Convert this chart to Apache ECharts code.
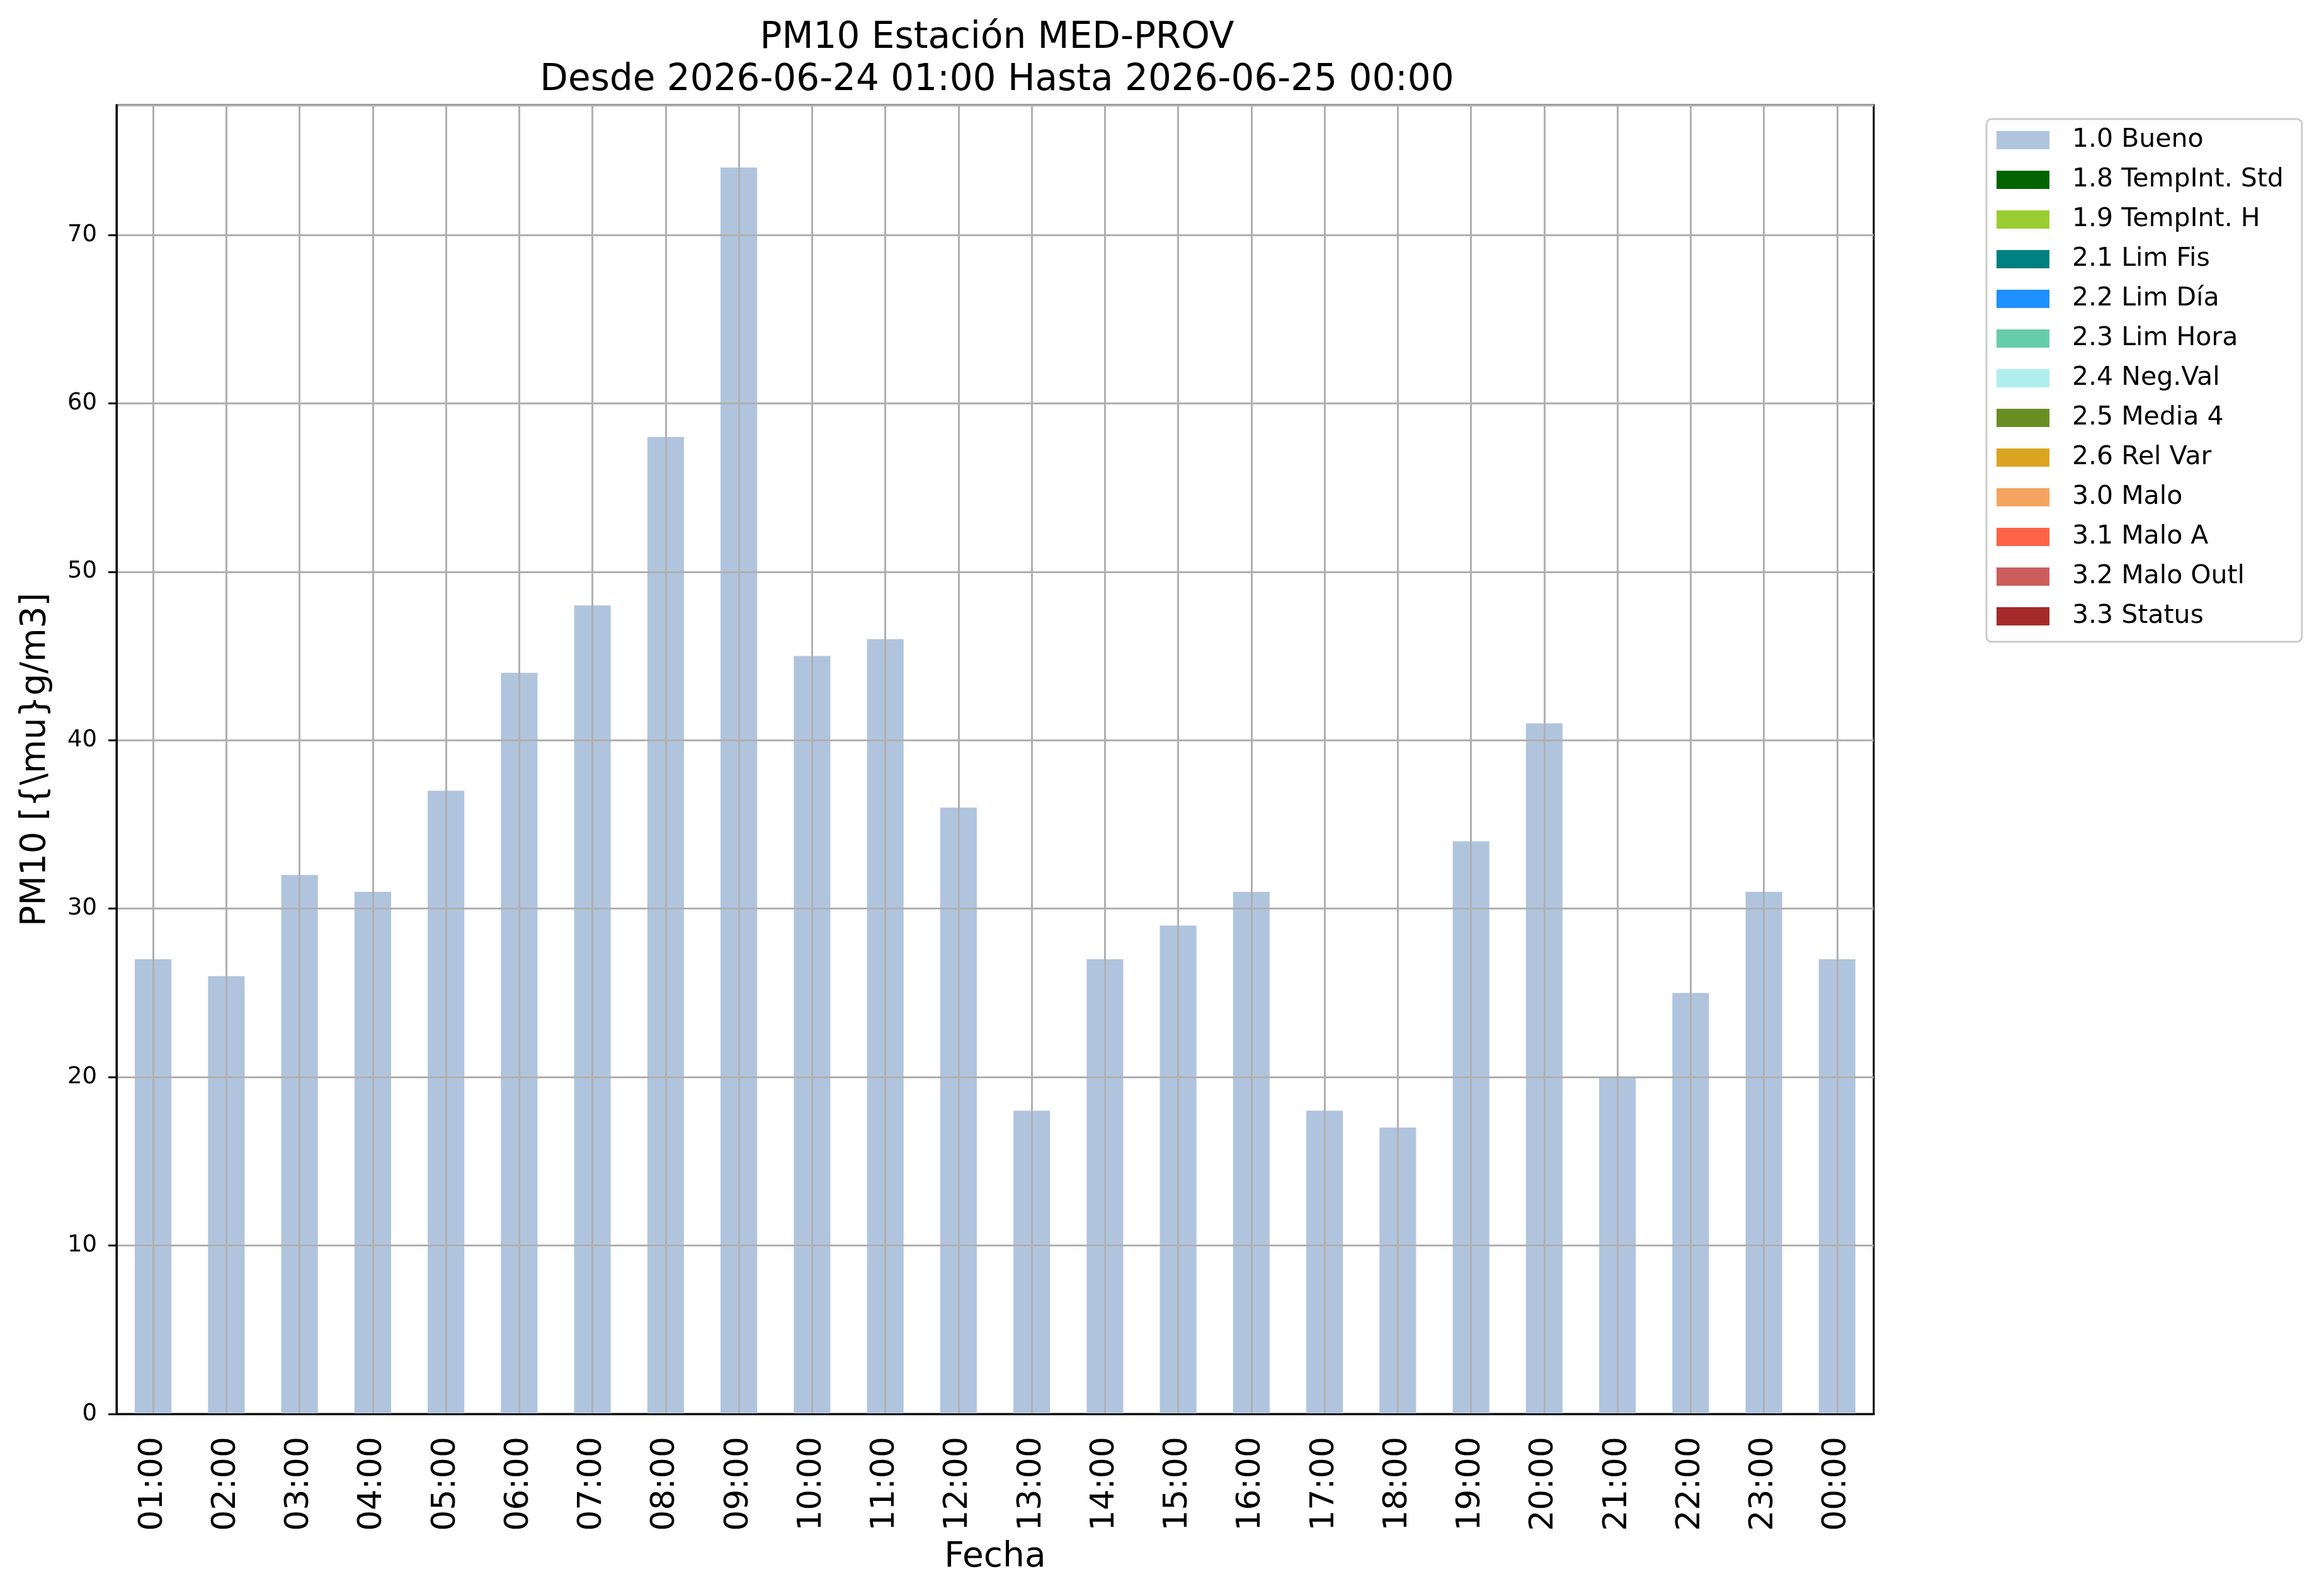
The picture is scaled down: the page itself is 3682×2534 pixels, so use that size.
<!DOCTYPE html>
<html lang="es">

<head>
    <meta charset="UTF-8">
    <title>PM10 Estación MED-PROV</title>
    <script src="https://cdn.jsdelivr.net/npm/echarts@6/dist/echarts.min.js"></script>
    <style>
        body {
            overflow: hidden;
            padding: 0;
            margin: 0;
            background: #fff;
        }
    </style>
</head>

<body>
    <div id="main" style="width: 3682px;height:2534px;"></div>
</body>
<script>
    // horas del dia (eje x)
    var horas = ['01:00', '02:00', '03:00', '04:00', '05:00', '06:00', '07:00', '08:00', '09:00', '10:00', '11:00', '12:00',
        '13:00', '14:00', '15:00', '16:00', '17:00', '18:00', '19:00', '20:00', '21:00', '22:00', '23:00', '00:00'];
    // valores PM10 con flag 1.0 Bueno
    var bueno = [27, 26, 32, 31, 37, 44, 48, 58, 74, 45, 46, 36, 18, 27, 29, 31, 18, 17, 34, 41, 20, 25, 31, 27];
    // flags de calidad y sus colores
    var flags = ['1.0 Bueno', '1.8 TempInt. Std', '1.9 TempInt. H', '2.1 Lim Fis', '2.2 Lim Día', '2.3 Lim Hora',
        '2.4 Neg.Val', '2.5 Media 4', '2.6 Rel Var', '3.0 Malo', '3.1 Malo A', '3.2 Malo Outl', '3.3 Status'];
    var colores = ['#b0c4de', '#006400', '#9acd32', '#008080', '#1e90ff', '#66cdaa',
        '#afeeee', '#6b8e23', '#daa520', '#f4a460', '#ff6347', '#cd5c5c', '#a52a2a'];
    var yMax = 77.7;

    var fuente = 'DejaVu Sans';
    var app = echarts.init(document.getElementById('main'));

    var series = [];
    for (var i = 0; i < flags.length; i++) {
        series.push({
            name: flags[i],
            type: 'bar',
            stack: 'total',
            barWidth: '50%',
            itemStyle: { color: colores[i] },
            data: i === 0 ? bueno : []
        });
    }

    option = {
        animation: false,
        color: colores,
        textStyle: { fontFamily: fuente },
        title: {
            text: 'PM10 Estación MED-PROV\nDesde 2026-06-24 01:00 Hasta 2026-06-25 00:00',
            left: 1578,
            top: 22,
            textAlign: 'center',
            textStyle: {
                fontFamily: fuente,
                fontWeight: 'normal',
                fontSize: 58,
                lineHeight: 67,
                color: '#000'
            }
        },
        legend: {
            orient: 'vertical',
            left: 3154,
            top: 189,
            padding: [13, 29, 20, 16],
            itemWidth: 84,
            itemHeight: 29,
            itemGap: 22,
            icon: 'rect',
            borderColor: '#cccccc',
            borderWidth: 3,
            borderRadius: 8,
            backgroundColor: '#fff',
            textStyle: {
                fontFamily: fuente,
                fontSize: 41,
                lineHeight: 41,
                color: '#000',
                padding: [0, 0, 0, 31]
            },
            data: flags
        },
        grid: {
            left: 185,
            right: 707,
            top: 167,
            bottom: 289,
            show: true,
            borderColor: '#000',
            borderWidth: 3,
            backgroundColor: 'transparent'
        },
        xAxis: {
            type: 'category',
            data: horas,
            z: 10,
            name: 'Fecha',
            nameLocation: 'middle',
            nameGap: 200,
            nameTextStyle: { fontFamily: fuente, fontSize: 55, color: '#000' },
            axisLine: { lineStyle: { color: '#000', width: 3 } },
            axisTick: { alignWithLabel: true, length: 15, lineStyle: { color: '#000', width: 3 } },
            axisLabel: {
                rotate: 90,
                interval: 0,
                margin: 36,
                fontFamily: fuente,
                fontSize: 52,
                color: '#000'
            },
            splitLine: {
                show: true,
                alignWithLabel: true,
                lineStyle: { color: '#b0b0b0', width: 3 }
            }
        },
        yAxis: {
            type: 'value',
            min: 0,
            max: yMax,
            interval: 10,
            z: 10,
            name: 'PM10 [{\\mu}g/m3]',
            nameLocation: 'middle',
            nameGap: 101,
            nameRotate: 90,
            nameTextStyle: { fontFamily: fuente, fontSize: 55, color: '#000' },
            axisLine: { show: true, lineStyle: { color: '#000', width: 3 } },
            axisTick: { show: true, length: 13, lineStyle: { color: '#000', width: 3 } },
            axisLabel: {
                margin: 31,
                showMaxLabel: false,
                fontFamily: fuente,
                fontSize: 37,
                color: '#000'
            },
            splitLine: { show: true, lineStyle: { color: '#b0b0b0', width: 3 } }
        },
        series: series
    };
    app.setOption(option);
</script>

</html>
